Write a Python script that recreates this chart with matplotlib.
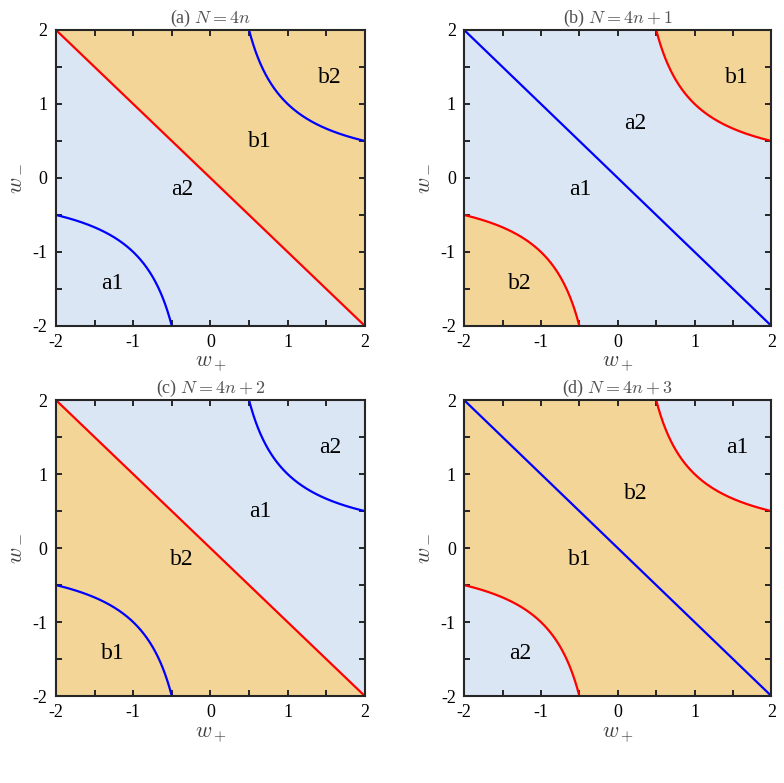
import numpy as np
import matplotlib.pyplot as plt

plt.rcParams['font.family'] = ['Liberation Serif', 'DejaVu Serif']
plt.rcParams['mathtext.fontset'] = 'cm'

orange = '#f3d598'
blue = '#dbe6f4'

titles = ['(a) $N=4n$', '(b) $N=4n+1$', '(c) $N=4n+2$', '(d) $N=4n+3$']
line_colors = ['red', 'blue', 'red', 'blue']
curve_colors = ['blue', 'red', 'blue', 'red']
labels = [
    {'a1': (-1.27, -1.42), 'a2': (-0.37, -0.16), 'b1': (0.64, 0.49), 'b2': (1.55, 1.36)},
    {'b2': (-1.27, -1.42), 'a1': (-0.49, -0.16), 'a2': (0.23, 0.74), 'b1': (1.55, 1.36)},
    {'b1': (-1.27, -1.42), 'b2': (-0.37, -0.16), 'a1': (0.64, 0.49), 'a2': (1.55, 1.36)},
    {'a2': (-1.27, -1.42), 'b1': (-0.49, -0.16), 'b2': (0.23, 0.74), 'a1': (1.55, 1.36)},
]
ticks = [-2, -1.5, -1, -0.5, 0, 0.5, 1, 1.5, 2]
ticklabels = ['-2', '', '-1', '', '0', '', '1', '', '2']

fig = plt.figure(figsize=(7.84, 7.83), dpi=100)
positions = [
    [0.0714, 0.5837, 0.394, 0.378],
    [0.592, 0.5837, 0.392, 0.378],
    [0.0714, 0.111, 0.394, 0.378],
    [0.592, 0.111, 0.392, 0.378],
]

x = np.linspace(-2, 2, 801)
xh = np.linspace(0.5, 2, 400)

for i in range(4):
    ax = fig.add_axes(positions[i])
    ax.set_xlim(-2, 2)
    ax.set_ylim(-2, 2)
    if i in (0, 2):
        up, down = (orange, blue) if i == 0 else (blue, orange)
        ax.fill_between(x, -x, 2, color=up, lw=0, zorder=0)
        ax.fill_between(x, -2, -x, color=down, lw=0, zorder=0)
    else:
        bg, hy = (blue, orange) if i == 1 else (orange, blue)
        ax.set_facecolor(bg)
        ax.fill_between(xh, 1 / xh, 2, color=hy, lw=0, zorder=0)
        ax.fill_between(-xh, -2, -1 / xh, color=hy, lw=0, zorder=0)
    ax.plot(x, -x, color=line_colors[i], lw=1.6)
    ax.plot(xh, 1 / xh, color=curve_colors[i], lw=1.6)
    ax.plot(-xh, -1 / xh, color=curve_colors[i], lw=1.6)
    for name, (px, py) in labels[i].items():
        ax.text(px, py, name, fontsize=17, ha='center', va='center')
    ax.set_xticks(ticks)
    ax.set_xticklabels(ticklabels)
    ax.set_yticks(ticks)
    ax.set_yticklabels(ticklabels)
    ax.tick_params(direction='in', top=True, right=True, labelsize=13,
                   length=4, width=1.4, color='#262626', pad=6)
    for s in ax.spines.values():
        s.set_linewidth(1.5)
        s.set_color('#262626')
        s.set_zorder(3)
    ax.set_xlabel('$w_+$', fontsize=16, color='#404040', labelpad=3)
    ax.set_ylabel('$w_-$', fontsize=16, color='#404040', labelpad=6)
    ax.set_title(titles[i], fontsize=13, color='#505050', pad=5)

fig.savefig('out.png', dpi=100)
